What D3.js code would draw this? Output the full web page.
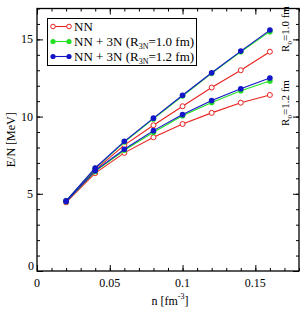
<!DOCTYPE html>
<html>
<head>
<meta charset="utf-8">
<script src="https://cdn.jsdelivr.net/npm/d3@7"></script>
<style>
  body { margin: 0; background: #fff; }
</style>
</head>
<body>
<div id="chart"></div>
<script>
// densities [fm^-3]
const density = [0.02, 0.04, 0.06, 0.08, 0.10, 0.12, 0.14, 0.16];

// E/N [MeV]
const nnR10 = [4.5, 6.55, 8.15, 9.44, 10.67, 11.88, 13.0, 14.2];
const nnR12 = [4.45, 6.34, 7.65, 8.66, 9.52, 10.24, 10.9, 11.4];
const n3nR10a = [4.55, 6.65, 8.35, 9.85, 11.33, 12.8, 14.2, 15.5];
const n3nR12a = [4.5, 6.45, 7.82, 8.98, 10.05, 10.92, 11.68, 12.3];
const n3nR10b = [4.55, 6.67, 8.4, 9.9, 11.38, 12.84, 14.24, 15.6];
const n3nR12b = [4.5, 6.5, 7.88, 9.09, 10.13, 11.04, 11.8, 12.5];

const xTicks = [0, 0.05, 0.1, 0.15];
const yTicks = [0, 5, 10, 15];

const FONT = '"Liberation Serif", "DejaVu Serif", serif';
const W = 302, H = 312;
const margin = {left: 37, right: 3, top: 8.5, bottom: 41};

const svg = d3.select('#chart').append('svg')
    .attr('width', W)
    .attr('height', H)
    .attr('font-family', FONT);

const x = d3.scaleLinear().domain([0, 0.18]).range([margin.left, W - margin.right]);
const y = d3.scaleLinear().domain([0, 17]).range([H - margin.bottom, margin.top]);

const series = [
    {values: nnR10, color: '#e8221f', open: true},
    {values: nnR12, color: '#e8221f', open: true},
    {values: n3nR10a, color: '#22e022', open: false},
    {values: n3nR12a, color: '#22e022', open: false},
    {values: n3nR10b, color: '#1414c8', open: false},
    {values: n3nR12b, color: '#1414c8', open: false}
];

const line = d3.line()
    .x(d => x(d[0]))
    .y(d => y(d[1]));

// axes with inward ticks on all four sides
function tickAxis(axisFn, scale, values, size) {
    return axisFn(scale).tickValues(values).tickSize(size).tickFormat('');
}
const xMinor = d3.range(0, 0.181, 0.01);
const yMinor = d3.range(0, 17.01, 1);

const bottom = H - margin.bottom, right = W - margin.right;

svg.append('g').attr('transform', `translate(0,${bottom})`)
    .call(tickAxis(d3.axisTop, x, xMinor, 3));
svg.append('g').attr('transform', `translate(0,${bottom})`)
    .call(tickAxis(d3.axisTop, x, xTicks, 6));
svg.append('g').attr('transform', `translate(0,${margin.top})`)
    .call(tickAxis(d3.axisBottom, x, xMinor, 3));
svg.append('g').attr('transform', `translate(0,${margin.top})`)
    .call(tickAxis(d3.axisBottom, x, xTicks, 6));
svg.append('g').attr('transform', `translate(${margin.left},0)`)
    .call(tickAxis(d3.axisRight, y, yMinor, 3));
svg.append('g').attr('transform', `translate(${margin.left},0)`)
    .call(tickAxis(d3.axisRight, y, yTicks, 6));
svg.append('g').attr('transform', `translate(${right},0)`)
    .call(tickAxis(d3.axisLeft, y, yMinor, 3));
svg.append('g').attr('transform', `translate(${right},0)`)
    .call(tickAxis(d3.axisLeft, y, yTicks, 6));

svg.selectAll('.domain').remove();
svg.selectAll('.tick line').attr('stroke', '#000').attr('stroke-width', 1);

svg.append('rect')
    .attr('x', margin.left).attr('y', margin.top)
    .attr('width', right - margin.left).attr('height', bottom - margin.top)
    .attr('fill', 'none').attr('stroke', '#000').attr('stroke-width', 1.3);

// tick labels
svg.append('g').selectAll('text').data(xTicks).join('text')
    .attr('x', d => x(d)).attr('y', bottom + 16)
    .attr('text-anchor', 'middle').attr('font-size', 12)
    .text(d => d === 0 ? '0' : d);
svg.append('g').selectAll('text').data(yTicks).join('text')
    .attr('x', d => d === 0 ? margin.left - 3 : margin.left - 4)
    .attr('y', d => d === 0 ? y(d) - 1 : y(d) + 4)
    .attr('text-anchor', 'end').attr('font-size', 12)
    .text(d => d);

// axis titles
const xt = svg.append('text')
    .attr('x', x(0.09) + 2).attr('y', H - 7)
    .attr('text-anchor', 'middle').attr('font-size', 12);
xt.append('tspan').text('n [fm');
xt.append('tspan').attr('font-size', 8).attr('dy', -6).text('-3');
xt.append('tspan').attr('dy', 6).text(']');

svg.append('text')
    .attr('transform', `translate(15,${y(8.5)}) rotate(-90)`)
    .attr('text-anchor', 'middle').attr('font-size', 12)
    .text('E/N [MeV]');

// curves
series.forEach(s => {
    const pts = density.map((d, i) => [d, s.values[i]]);
    const g = svg.append('g');
    g.append('path').datum(pts)
        .attr('d', line)
        .attr('fill', 'none')
        .attr('stroke', s.color)
        .attr('stroke-width', 1.1);
    g.selectAll('circle').data(pts).join('circle')
        .attr('cx', d => x(d[0])).attr('cy', d => y(d[1]))
        .attr('r', s.open ? 2.5 : 2.8)
        .attr('fill', s.open ? '#fff' : s.color)
        .attr('stroke', s.color)
        .attr('stroke-width', s.open ? 1 : 0);
});

// side labels
function sideLabel(yc, txt) {
    const t = svg.append('text')
        .attr('transform', `translate(289,${yc}) rotate(-90)`)
        .attr('text-anchor', 'middle').attr('font-size', 11);
    t.append('tspan').text('R');
    t.append('tspan').attr('font-size', 7).attr('dy', 3).text('0');
    t.append('tspan').attr('dy', -3).text(txt);
}
sideLabel(29, '=1.0 fm');
sideLabel(103, '=1.2 fm');

// legend
const legend = svg.append('g');
legend.append('rect')
    .attr('x', 47.5).attr('y', 18.5).attr('width', 149).attr('height', 47)
    .attr('fill', '#fff').attr('stroke', '#000').attr('stroke-width', 1);

const legendItems = [
    {label: 'NN', color: '#e8221f', open: true},
    {label: 'NN + 3N (R', sub: '3N', tail: '=1.0 fm)', color: '#22e022', open: false},
    {label: 'NN + 3N (R', sub: '3N', tail: '=1.2 fm)', color: '#1414c8', open: false}
];
legendItems.forEach((it, i) => {
    const ly = 26.5 + i * 15;
    legend.append('line')
        .attr('x1', 53).attr('x2', 69).attr('y1', ly).attr('y2', ly)
        .attr('stroke', it.color).attr('stroke-width', 1.1);
    [53, 69].forEach(cx => legend.append('circle')
        .attr('cx', cx).attr('cy', ly).attr('r', it.open ? 2.3 : 2.6)
        .attr('fill', it.open ? '#fff' : it.color)
        .attr('stroke', it.color).attr('stroke-width', it.open ? 1 : 0));
    const t = legend.append('text')
        .attr('x', 74).attr('y', ly + 4.5).attr('font-size', 13);
    t.append('tspan').text(it.label);
    if (it.sub) {
        t.append('tspan').attr('font-size', 8).attr('dy', 3).text(it.sub);
        t.append('tspan').attr('dy', -3).text(it.tail);
    }
});
</script>
</body>
</html>
